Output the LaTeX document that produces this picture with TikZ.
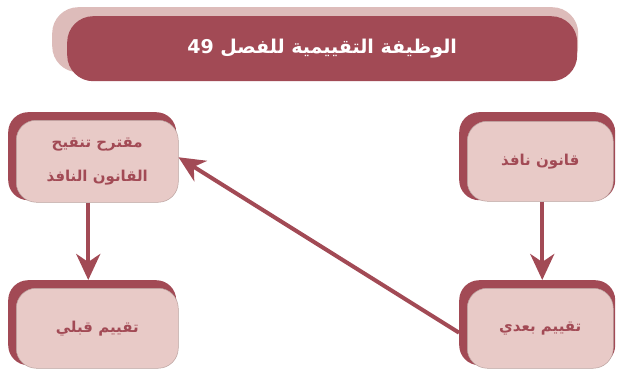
\documentclass[tikz,border=0pt]{standalone}
\usepackage{fontspec}
\usetikzlibrary{arrows.meta}
\TeXXeTstate=1
\newfontfamily\arabicfont[Script=Arabic]{DejaVu Sans}
\definecolor{wine}{HTML}{A24A55}
\definecolor{blush}{HTML}{E8CAC7}
\definecolor{rosebg}{HTML}{DDBCBA}
\begin{document}
\begin{tikzpicture}[x=1pt,y=-1pt,
  backbox/.style={fill=wine, rounded corners=20pt, inner sep=0pt, anchor=north west},
  frontbox/.style={fill=blush, draw=blush!80!black, line width=0.5pt, rounded corners=20pt,
    inner sep=0pt, anchor=north west, text=wine, align=center,
    font=\arabicfont\bfseries\fontsize{15}{34}\selectfont},
  link/.style={draw=wine, line width=4pt, -{Stealth[length=26pt,width=24pt,inset=8pt]}}
]
\useasboundingbox (0,0) rectangle (620,369);

% heading banner
\node[fill=rosebg, rounded corners=26pt, minimum width=526pt, minimum height=65pt,
  inner sep=0pt, anchor=north west] (headback) at (52,7) {};
\node[fill=wine, rounded corners=26pt, minimum width=510pt, minimum height=65pt,
  inner sep=0pt, anchor=north west, text=white,
  font=\arabicfont\bfseries\fontsize{19}{23}\selectfont] (head) at (67,16)
  {\beginR الوظيفة التقييمية للفصل \beginL49\endL\endR};

% boxes: dark backing shape, then the pale face with the label
\node[backbox, minimum width=168pt, minimum height=88pt] (proposalback) at (8,112) {};
\node[frontbox, minimum width=162pt, minimum height=82pt] (proposal) at (16,120)
  {\beginR مقترح تنقيح\endR\\\beginR القانون النافذ\endR};

\node[backbox, minimum width=156pt, minimum height=88pt] (lawback) at (459,112) {};
\node[frontbox, minimum width=146pt, minimum height=80pt] (law) at (467,121)
  {\beginR قانون نافذ\endR};

\node[backbox, minimum width=168pt, minimum height=85pt] (preback) at (8,280) {};
\node[frontbox, minimum width=162pt, minimum height=80pt] (pre) at (16,288)
  {\beginR تقييم قبلي\endR};

\node[backbox, minimum width=156pt, minimum height=85pt] (postback) at (459,280) {};
\node[frontbox, minimum width=146pt, minimum height=80pt] (post) at (467,288)
  {\beginR تقييم بعدي\endR};

% connectors: the two downward arrows stay exactly vertical
\coordinate (proposalfoot) at ([xshift=-9pt]proposal.south);
\coordinate (lawfoot) at ([xshift=2pt]law.south);
\draw[link] (proposalfoot) -- (proposalfoot |- preback.north);
\draw[link] (lawfoot) -- (lawfoot |- postback.north);
\draw[link] ([yshift=-10pt]postback.west) -- ([yshift=4pt]proposal.east);
\end{tikzpicture}
\end{document}
